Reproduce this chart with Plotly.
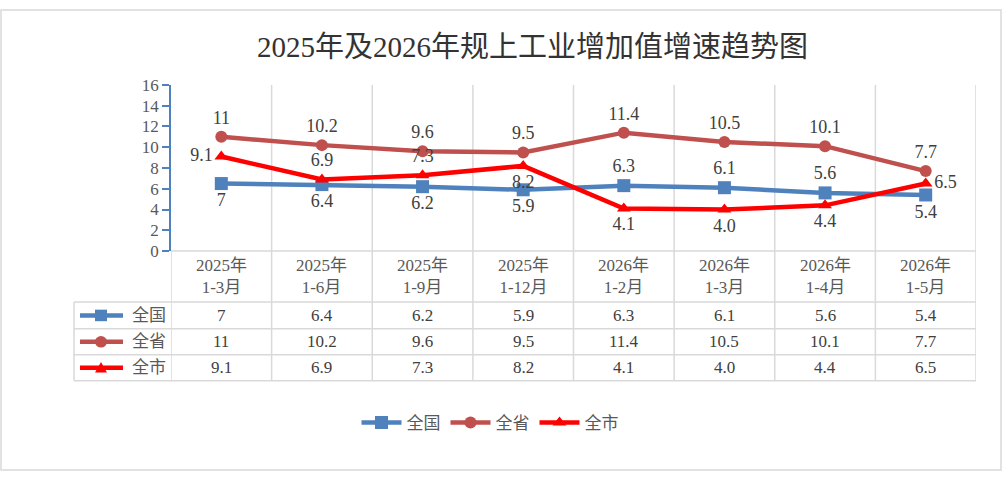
import plotly.graph_objects as go

W, H = 1003, 482

categories = ["2025年<br>1-3月", "2025年<br>1-6月", "2025年<br>1-9月", "2025年<br>1-12月",
              "2026年<br>1-2月", "2026年<br>1-3月", "2026年<br>1-4月", "2026年<br>1-5月"]
series_names = ["全国", "全省", "全市"]
quanguo = [6.5, 6.4, 6.2, 5.9, 6.3, 6.1, 5.6, 5.4]
quansheng = [11.0, 10.2, 9.6, 9.5, 11.4, 10.5, 10.1, 7.7]
quanshi = [9.1, 6.9, 7.3, 8.2, 4.1, 4.0, 4.4, 6.5]
quanguo_labels = ["7", "6.4", "6.2", "5.9", "6.3", "6.1", "5.6", "5.4"]
quansheng_labels = ["11", "10.2", "9.6", "9.5", "11.4", "10.5", "10.1", "7.7"]
quanshi_labels = ["9.1", "6.9", "7.3", "8.2", "4.1", "4.0", "4.4", "6.5"]
y_ticks = [0, 2, 4, 6, 8, 10, 12, 14, 16]

colors = ["#4F81BD", "#C0504D", "#FF0000"]
symbols = ["square", "circle", "triangle-up"]
values = [quanguo, quansheng, quanshi]
labels = [quanguo_labels, quansheng_labels, quanshi_labels]
positions = [
    ["bottom center"] * 4 + ["top center"] * 3 + ["bottom center"],
    ["top center"] * 8,
    ["middle left", "top center", "top center", "bottom center",
     "bottom center", "bottom center", "bottom center", "middle right"],
]

FONT = "Liberation Serif, Times New Roman, Noto Sans CJK SC, serif"
TXT = "#404040"
GRID = "#D9D9D9"

def X(px):
    return px / W

def Y(py):
    return 1 - py / H

PL, PR, PT, PB = 171, 976, 79, 252
TL = 74
ROWS = [305, 333, 360, 387]

fig = go.Figure()
xs = list(range(len(categories)))
for name, v, lab, c, s, pos in zip(series_names, values, labels, colors, symbols, positions):
    fig.add_trace(go.Scatter(
        x=xs, y=v, name=name, mode="lines+markers+text",
        line=dict(color=c, width=4.5),
        marker=dict(symbol=s, size=12 if s != "square" else 13, color=c),
        text=lab, textposition=pos,
        textfont=dict(family=FONT, size=18, color=TXT),
        cliponaxis=False,
    ))

shapes = []
for i in range(len(categories) + 1):
    xv = i - 0.5
    top = PT if i > 0 else PB
    shapes.append(dict(type="line", xref="x", yref="paper", x0=xv, x1=xv,
                       y0=Y(ROWS[-1]), y1=Y(top), line=dict(color=GRID, width=1.5), layer="below"))
shapes.append(dict(type="line", xref="paper", yref="paper", x0=X(PL), x1=X(PR),
                   y0=Y(PB), y1=Y(PB), line=dict(color=GRID, width=1.5)))
for r in ROWS:
    shapes.append(dict(type="line", xref="paper", yref="paper", x0=X(TL), x1=X(PR),
                       y0=Y(r), y1=Y(r), line=dict(color=GRID, width=1.5)))
shapes.append(dict(type="line", xref="paper", yref="paper", x0=X(TL), x1=X(TL),
                   y0=Y(ROWS[0]), y1=Y(ROWS[-1]), line=dict(color=GRID, width=1.5)))
shapes.append(dict(type="rect", xref="paper", yref="paper", x0=X(1), x1=X(W - 2),
                   y0=Y(H - 2), y1=Y(1), line=dict(color=GRID, width=1.5)))

annotations = []
annotations.append(dict(text="2025年及2026年规上工业增加值增速趋势图", xref="paper", yref="paper",
                        x=X(532), y=Y(40), showarrow=False, xanchor="center", yanchor="middle",
                        font=dict(family=FONT, size=29, color="#333333")))
for i, cat in enumerate(categories):
    annotations.append(dict(text=cat, xref="x", yref="paper", x=i, y=Y((PB + ROWS[0]) / 2),
                            showarrow=False, xanchor="center", yanchor="middle",
                            font=dict(family=FONT, size=17, color="#595959")))
for r, (name, lab, c, s) in enumerate(zip(series_names, labels, colors, symbols)):
    yc = (ROWS[r] + ROWS[r + 1]) / 2
    for i, t in enumerate(lab):
        annotations.append(dict(text=t, xref="x", yref="paper", x=i, y=Y(yc),
                                showarrow=False, xanchor="center", yanchor="middle",
                                font=dict(family=FONT, size=17, color="#404040")))
    annotations.append(dict(text=name, xref="paper", yref="paper", x=X(130), y=Y(yc),
                            showarrow=False, xanchor="left", yanchor="middle",
                            font=dict(family=FONT, size=17, color="#595959")))
    shapes.append(dict(type="line", xref="paper", yref="paper", x0=X(80), x1=X(123),
                       y0=Y(yc), y1=Y(yc), line=dict(color=c, width=4.5)))
    mx = 101
    if s == "square":
        shapes.append(dict(type="rect", xref="paper", yref="paper", x0=X(mx - 6), x1=X(mx + 6),
                           y0=Y(yc + 6), y1=Y(yc - 6), fillcolor=c, line=dict(width=0)))
    elif s == "circle":
        shapes.append(dict(type="circle", xref="paper", yref="paper", x0=X(mx - 6), x1=X(mx + 6),
                           y0=Y(yc + 6), y1=Y(yc - 6), fillcolor=c, line=dict(width=0)))
    else:
        path = "M {} {} L {} {} L {} {} Z".format(X(mx - 6), Y(yc + 5), X(mx + 6), Y(yc + 5), X(mx), Y(yc - 6))
        shapes.append(dict(type="path", xref="paper", yref="paper", path=path,
                           fillcolor=c, line=dict(width=0)))

fig.update_layout(
    width=W, height=H,
    margin=dict(l=0, r=0, t=0, b=0),
    paper_bgcolor="white", plot_bgcolor="white",
    showlegend=True,
    legend=dict(orientation="h", x=X(490), y=Y(431), xanchor="center", yanchor="middle",
                font=dict(family=FONT, size=17, color="#595959"), itemwidth=40,
                bgcolor="rgba(0,0,0,0)"),
    xaxis=dict(domain=[X(PL), X(PR)], range=[-0.5, len(categories) - 0.5],
               showticklabels=False, showgrid=False, zeroline=False, showline=False, ticks=""),
    yaxis=dict(domain=[Y(PB), Y(PT)], range=[0, 16], tickvals=y_ticks,
               showgrid=False, zeroline=False, showline=True, linecolor="#4F81BD", linewidth=1.5,
               ticks="outside", ticklen=7, tickcolor="#4F81BD", tickwidth=1.5,
               tickfont=dict(family=FONT, size=17, color="#595959")),
    shapes=shapes, annotations=annotations,
)

post = ("var d=document.getElementById('{plot_id}');"
        "d.style.position='fixed';d.style.left='0px';d.style.top='0px';"
        "document.body.style.margin='0';document.documentElement.style.overflow='hidden';"
        "document.body.style.overflow='hidden';")
fig.write_html("out.html", config={"displayModeBar": False}, post_script=post)
